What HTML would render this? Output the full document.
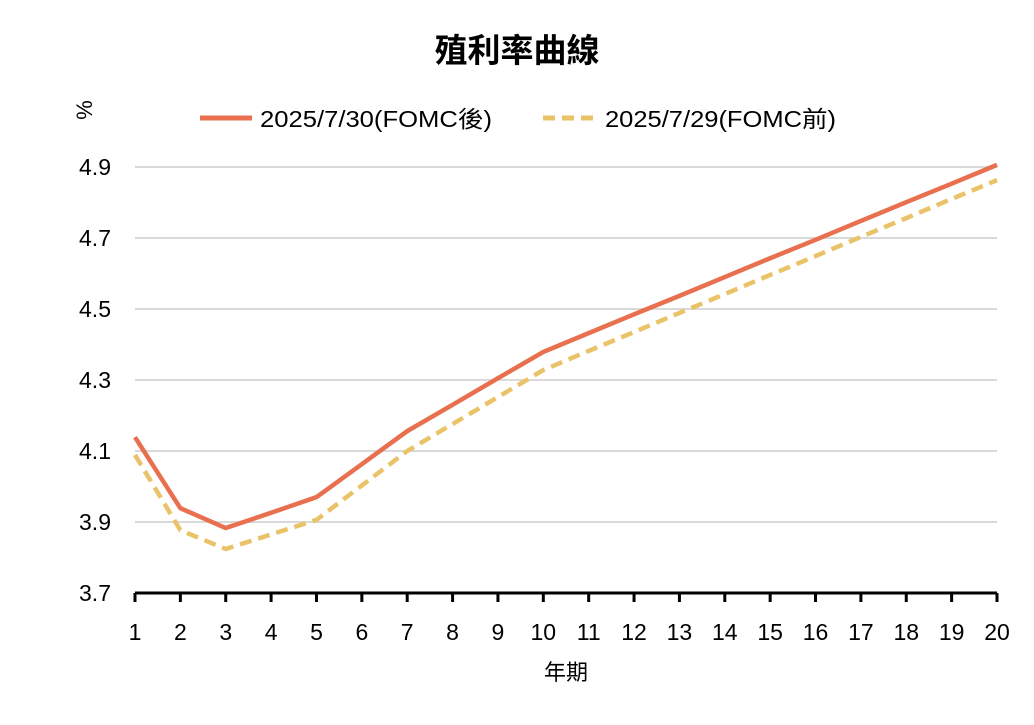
<!DOCTYPE html>
<html><head><meta charset="utf-8"><style>
body{margin:0;background:#fff;width:1034px;height:720px;overflow:hidden}
svg text{font-family:"Liberation Sans","Noto Sans CJK TC",sans-serif;fill:#000}
</style></head><body>
<svg id="chart" width="1034" height="720" viewBox="0 0 1034 720">
<text x="517" y="62" text-anchor="middle" font-size="33" font-weight="bold">殖利率曲線</text>
<text transform="translate(92,110) rotate(-90)" text-anchor="middle" font-size="22">%</text>
<g>
<line x1="200" y1="118" x2="252" y2="118" stroke="#E8704F" stroke-width="5"/>
<text x="260" y="127" font-size="23" textLength="232" lengthAdjust="spacingAndGlyphs">2025/7/30(FOMC後)</text>
<line x1="543" y1="118" x2="598" y2="118" stroke="#EAC368" stroke-width="5" stroke-dasharray="12,7"/>
<text x="605" y="127" font-size="23" textLength="231" lengthAdjust="spacingAndGlyphs">2025/7/29(FOMC前)</text>
</g>
<g id="grid"></g><g id="axes"></g><g id="series"></g>
<text x="566" y="680" text-anchor="middle" font-size="22">年期</text>
</svg>
<script>
const years=[1,2,3,4,5,6,7,8,9,10,11,12,13,14,15,16,17,18,19,20];
const afterFomc=[4.139,3.939,3.883,3.926,3.970,4.063,4.156,4.230,4.305,4.379,4.432,4.485,4.537,4.590,4.643,4.695,4.748,4.801,4.853,4.906];
const beforeFomc=[4.089,3.877,3.824,3.865,3.906,4.003,4.100,4.176,4.252,4.328,4.382,4.435,4.489,4.542,4.596,4.649,4.703,4.756,4.810,4.863];
const yTicks=[3.7,3.9,4.1,4.3,4.5,4.7,4.9];
const NS='http://www.w3.org/2000/svg';
const x=v=>135+(v-1)*(997-135)/19;
const y=v=>593-(v-3.7)*(593-167)/1.2;
function mk(t,a,p){const e=document.createElementNS(NS,t);for(const k in a)e.setAttribute(k,a[k]);p.appendChild(e);return e;}
const grid=document.getElementById('grid'),axes=document.getElementById('axes'),ser=document.getElementById('series');
yTicks.forEach(t=>{
 if(t>3.7){const g=mk('line',{x1:135,x2:997,y1:y(t),y2:y(t),stroke:'#d9d9d9','stroke-width':2},grid);
 
 }
 const l=mk('text',{x:111,y:y(t)+8,'text-anchor':'end','font-size':23},axes);l.textContent=t.toFixed(1);
 
 
});
const ax=mk('line',{x1:135,x2:997,y1:593,y2:593,stroke:'#000','stroke-width':3},axes);


years.forEach(v=>{
 const tk=mk('line',{x1:x(v),x2:x(v),y1:593,y2:602,stroke:'#000','stroke-width':3},axes);
 
 
 const l=mk('text',{x:x(v),y:640,'text-anchor':'middle','font-size':23},axes);l.textContent=v;
 
 
});
const pts=a=>a.map((v,i)=>x(years[i])+','+y(v)).join(' ');
const p2=mk('polyline',{points:pts(beforeFomc),fill:'none',stroke:'#EAC368','stroke-width':4.5,'stroke-dasharray':'12,7','stroke-linejoin':'round'},ser);


const p1=mk('polyline',{points:pts(afterFomc),fill:'none',stroke:'#E8704F','stroke-width':4.5,'stroke-linejoin':'round'},ser);


</script>
</body></html>
